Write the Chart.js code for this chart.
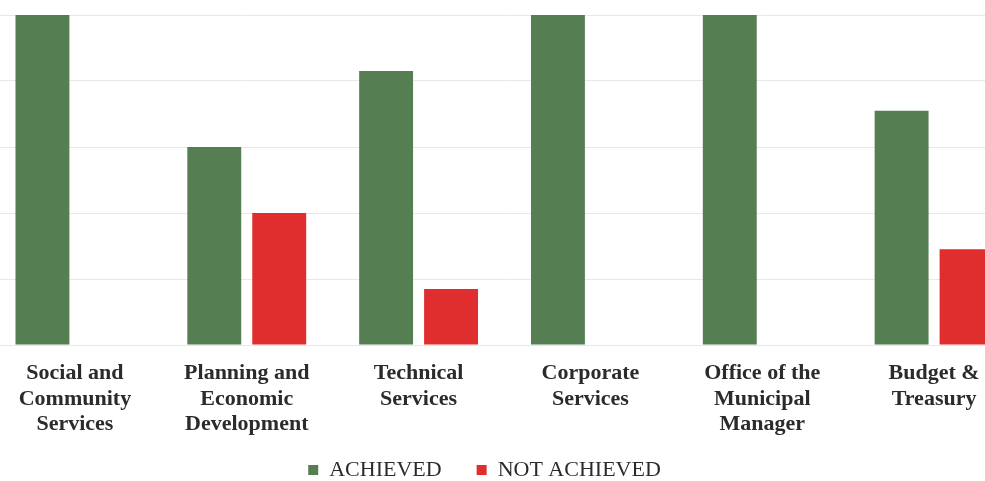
<!DOCTYPE html>
<html lang="en">
<head>
    <meta charset="UTF-8">
    <title>Achieved vs Not Achieved by Department</title>
    <script src="https://cdn.jsdelivr.net/npm/chart.js"></script>
    <style>
        html, body { margin: 0; padding: 0; background: #fff; overflow: hidden; }
        .wrap { position: absolute; left: -11px; top: 0; width: 1031px; height: 491px; }
    </style>
</head>
<body>
    <div class="wrap"><canvas id="chart"></canvas></div>

    <script>
        const departments = [
            ['Social and', 'Community', 'Services'],
            ['Planning and', 'Economic', 'Development'],
            ['Technical', 'Services'],
            ['Corporate', 'Services'],
            ['Office of the', 'Municipal', 'Manager'],
            ['Budget &', 'Treasury']
        ];
        const achieved = [100, 60, 83, 100, 100, 71];
        const notAchieved = [0, 40, 17, 0, 0, 29];

        const serif = "'Liberation Serif', 'Times New Roman', serif";

        // the x band is shortened in afterFit, so let its labels run past it,
        // and nudge the legend a bit left like in the scan
        const layoutTweaks = {
            id: 'layoutTweaks',
            afterLayout(chart) {
                chart.scales.x.bottom = chart.height;
                chart.legend.left -= 20;
                chart.legend.right -= 20;
            }
        };

        new Chart(document.getElementById('chart'), {
            type: 'bar',
            data: {
                labels: departments,
                datasets: [
                    { label: 'ACHIEVED', data: achieved, backgroundColor: '#557f52' },
                    { label: 'NOT ACHIEVED', data: notAchieved, backgroundColor: '#df2e2d' }
                ]
            },
            plugins: [layoutTweaks],
            options: {
                responsive: true,
                maintainAspectRatio: false,
                animation: false,
                layout: { padding: { top: 15, left: 0, right: 0, bottom: 0 } },
                datasets: { bar: { categoryPercentage: 0.756, barPercentage: 0.83 } },
                plugins: {
                    legend: {
                        position: 'bottom',
                        labels: {
                            boxWidth: 10, boxHeight: 10, padding: 35,
                            color: '#2b2b2b',
                            font: { family: serif, size: 22 }
                        }
                    },
                    tooltip: { enabled: false }
                },
                scales: {
                    x: {
                        grid: { display: false },
                        border: { display: false },
                        afterFit: (scale) => { scale.height = 79; },
                        ticks: {
                            color: '#2b2b2b', padding: 8, maxRotation: 0, autoSkip: false,
                            font: { family: serif, size: 22, weight: 'bold', lineHeight: 1.16 }
                        }
                    },
                    y: {
                        min: 0, max: 100,
                        ticks: { display: false, stepSize: 20 },
                        grid: { color: '#e8e8e8', drawTicks: false },
                        border: { display: false }
                    }
                }
            }
        });
    </script>
</body>
</html>
